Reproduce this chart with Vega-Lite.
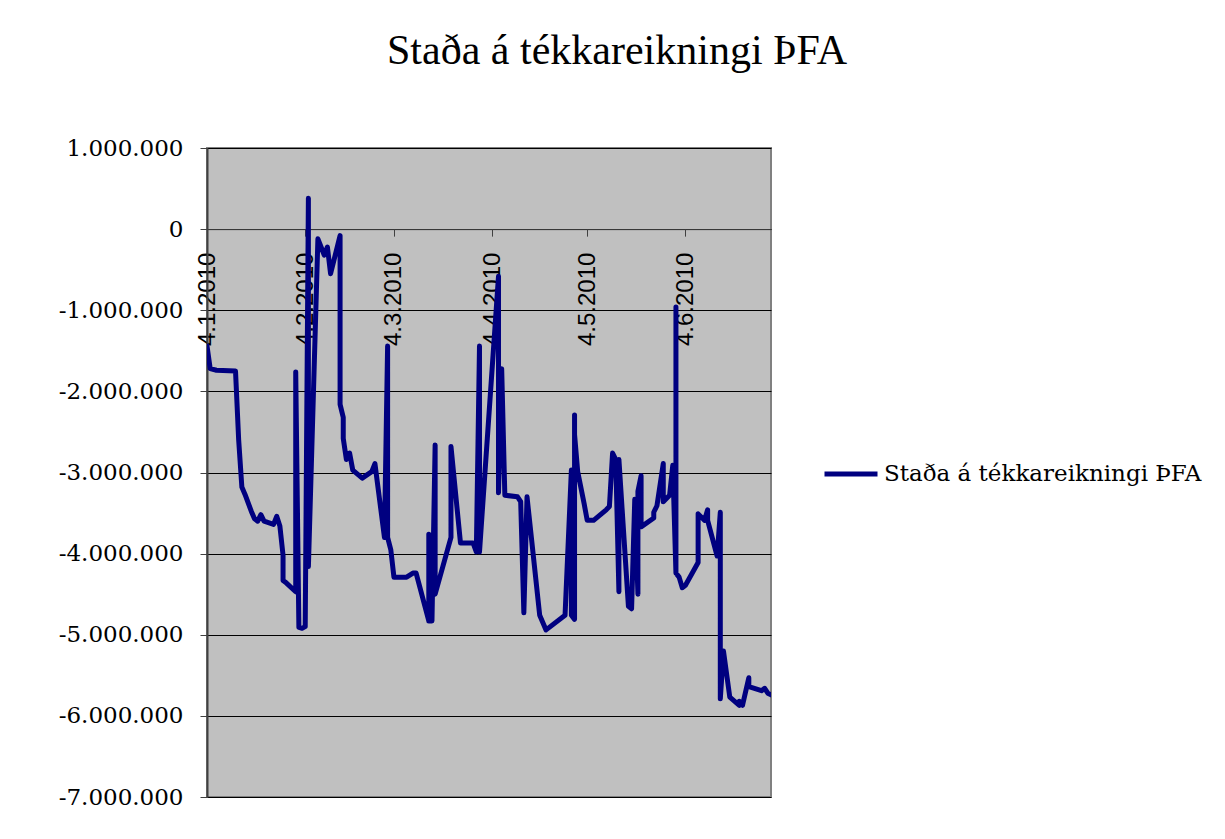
{
  "$schema": "https://vega.github.io/schema/vega-lite/v6.json",
  "autosize": {"type": "none"},
  "width": 564,
  "height": 649,
  "padding": {"left": 207, "top": 148, "right": 454, "bottom": 42},
  "background": "white",
  "title": {
    "text": "Staða á tékkareikningi ÞFA",
    "font": "Liberation Serif",
    "fontSize": 42,
    "fontWeight": "normal",
    "color": "black",
    "anchor": "middle",
    "frame": "group",
    "dx": 128,
    "baseline": "alphabetic",
    "offset": 31
  },
  "config": {
    "locale": {
      "number": {"decimal": ",", "thousands": ".", "grouping": [3], "currency": ["", " kr."], "minus": "-"}
    },
    "view": {"fill": "#C0C0C0", "stroke": "#808080", "strokeWidth": 2}
  },
  "data": {
    "format": {"parse": {"date": "date:'%Y-%m-%d'"}},
    "values": [
      {"n": 1, "date": "2010-01-04", "balance": -1440000},
      {"n": 2, "date": "2010-01-05", "balance": -1720000},
      {"n": 3, "date": "2010-01-07", "balance": -1740000},
      {"n": 4, "date": "2010-01-13", "balance": -1750000},
      {"n": 5, "date": "2010-01-14", "balance": -2600000},
      {"n": 6, "date": "2010-01-15", "balance": -3180000},
      {"n": 7, "date": "2010-01-16", "balance": -3270000},
      {"n": 8, "date": "2010-01-18", "balance": -3480000},
      {"n": 9, "date": "2010-01-19", "balance": -3570000},
      {"n": 10, "date": "2010-01-20", "balance": -3600000},
      {"n": 11, "date": "2010-01-21", "balance": -3520000},
      {"n": 12, "date": "2010-01-22", "balance": -3600000},
      {"n": 13, "date": "2010-01-25", "balance": -3640000},
      {"n": 14, "date": "2010-01-26", "balance": -3540000},
      {"n": 15, "date": "2010-01-27", "balance": -3660000},
      {"n": 16, "date": "2010-01-28", "balance": -4020000},
      {"n": 17, "date": "2010-01-28", "balance": -4330000},
      {"n": 18, "date": "2010-01-29", "balance": -4360000},
      {"n": 19, "date": "2010-02-01", "balance": -4470000},
      {"n": 20, "date": "2010-02-01", "balance": -1760000},
      {"n": 21, "date": "2010-02-02", "balance": -4910000},
      {"n": 22, "date": "2010-02-03", "balance": -4920000},
      {"n": 23, "date": "2010-02-04", "balance": -4900000},
      {"n": 24, "date": "2010-02-05", "balance": 380000},
      {"n": 25, "date": "2010-02-05", "balance": -4160000},
      {"n": 26, "date": "2010-02-08", "balance": -120000},
      {"n": 27, "date": "2010-02-09", "balance": -220000},
      {"n": 28, "date": "2010-02-10", "balance": -320000},
      {"n": 29, "date": "2010-02-11", "balance": -220000},
      {"n": 30, "date": "2010-02-12", "balance": -550000},
      {"n": 31, "date": "2010-02-15", "balance": -80000},
      {"n": 32, "date": "2010-02-15", "balance": -2160000},
      {"n": 33, "date": "2010-02-16", "balance": -2320000},
      {"n": 34, "date": "2010-02-16", "balance": -2580000},
      {"n": 35, "date": "2010-02-17", "balance": -2840000},
      {"n": 36, "date": "2010-02-18", "balance": -2760000},
      {"n": 37, "date": "2010-02-19", "balance": -2970000},
      {"n": 38, "date": "2010-02-22", "balance": -3070000},
      {"n": 39, "date": "2010-02-25", "balance": -2990000},
      {"n": 40, "date": "2010-02-26", "balance": -2890000},
      {"n": 41, "date": "2010-03-01", "balance": -3800000},
      {"n": 42, "date": "2010-03-02", "balance": -1440000},
      {"n": 43, "date": "2010-03-02", "balance": -3800000},
      {"n": 44, "date": "2010-03-03", "balance": -3950000},
      {"n": 45, "date": "2010-03-04", "balance": -4290000},
      {"n": 46, "date": "2010-03-08", "balance": -4290000},
      {"n": 47, "date": "2010-03-10", "balance": -4240000},
      {"n": 48, "date": "2010-03-11", "balance": -4240000},
      {"n": 49, "date": "2010-03-15", "balance": -4830000},
      {"n": 50, "date": "2010-03-15", "balance": -3760000},
      {"n": 51, "date": "2010-03-15", "balance": -4830000},
      {"n": 52, "date": "2010-03-16", "balance": -4830000},
      {"n": 53, "date": "2010-03-17", "balance": -2660000},
      {"n": 54, "date": "2010-03-17", "balance": -4500000},
      {"n": 55, "date": "2010-03-22", "balance": -3800000},
      {"n": 56, "date": "2010-03-22", "balance": -2680000},
      {"n": 57, "date": "2010-03-25", "balance": -3870000},
      {"n": 58, "date": "2010-03-29", "balance": -3870000},
      {"n": 59, "date": "2010-03-30", "balance": -3980000},
      {"n": 60, "date": "2010-03-31", "balance": -1440000},
      {"n": 61, "date": "2010-03-31", "balance": -3980000},
      {"n": 62, "date": "2010-04-01", "balance": -3410000},
      {"n": 63, "date": "2010-04-06", "balance": -580000},
      {"n": 64, "date": "2010-04-06", "balance": -3250000},
      {"n": 65, "date": "2010-04-07", "balance": -1720000},
      {"n": 66, "date": "2010-04-08", "balance": -3280000},
      {"n": 67, "date": "2010-04-12", "balance": -3300000},
      {"n": 68, "date": "2010-04-13", "balance": -3360000},
      {"n": 69, "date": "2010-04-14", "balance": -4730000},
      {"n": 70, "date": "2010-04-15", "balance": -3300000},
      {"n": 71, "date": "2010-04-19", "balance": -4760000},
      {"n": 72, "date": "2010-04-21", "balance": -4940000},
      {"n": 73, "date": "2010-04-27", "balance": -4760000},
      {"n": 74, "date": "2010-04-29", "balance": -2970000},
      {"n": 75, "date": "2010-04-29", "balance": -4760000},
      {"n": 76, "date": "2010-04-30", "balance": -4810000},
      {"n": 77, "date": "2010-04-30", "balance": -2290000},
      {"n": 78, "date": "2010-04-30", "balance": -2530000},
      {"n": 79, "date": "2010-05-01", "balance": -2990000},
      {"n": 80, "date": "2010-05-03", "balance": -3380000},
      {"n": 81, "date": "2010-05-04", "balance": -3590000},
      {"n": 82, "date": "2010-05-06", "balance": -3590000},
      {"n": 83, "date": "2010-05-10", "balance": -3460000},
      {"n": 84, "date": "2010-05-11", "balance": -3420000},
      {"n": 85, "date": "2010-05-12", "balance": -2760000},
      {"n": 86, "date": "2010-05-13", "balance": -2840000},
      {"n": 87, "date": "2010-05-14", "balance": -4470000},
      {"n": 88, "date": "2010-05-14", "balance": -2840000},
      {"n": 89, "date": "2010-05-17", "balance": -4650000},
      {"n": 90, "date": "2010-05-18", "balance": -4680000},
      {"n": 91, "date": "2010-05-19", "balance": -3330000},
      {"n": 92, "date": "2010-05-20", "balance": -4500000},
      {"n": 93, "date": "2010-05-20", "balance": -3230000},
      {"n": 94, "date": "2010-05-21", "balance": -3040000},
      {"n": 95, "date": "2010-05-21", "balance": -3670000},
      {"n": 96, "date": "2010-05-25", "balance": -3560000},
      {"n": 97, "date": "2010-05-25", "balance": -3490000},
      {"n": 98, "date": "2010-05-26", "balance": -3410000},
      {"n": 99, "date": "2010-05-28", "balance": -2890000},
      {"n": 100, "date": "2010-05-28", "balance": -3360000},
      {"n": 101, "date": "2010-05-30", "balance": -3280000},
      {"n": 102, "date": "2010-05-31", "balance": -2910000},
      {"n": 103, "date": "2010-06-01", "balance": -4240000},
      {"n": 104, "date": "2010-06-01", "balance": -960000},
      {"n": 105, "date": "2010-06-01", "balance": -4240000},
      {"n": 106, "date": "2010-06-02", "balance": -4290000},
      {"n": 107, "date": "2010-06-03", "balance": -4420000},
      {"n": 108, "date": "2010-06-04", "balance": -4390000},
      {"n": 109, "date": "2010-06-08", "balance": -4110000},
      {"n": 110, "date": "2010-06-08", "balance": -3510000},
      {"n": 111, "date": "2010-06-10", "balance": -3590000},
      {"n": 112, "date": "2010-06-11", "balance": -3460000},
      {"n": 113, "date": "2010-06-11", "balance": -3590000},
      {"n": 114, "date": "2010-06-14", "balance": -4030000},
      {"n": 115, "date": "2010-06-15", "balance": -3490000},
      {"n": 116, "date": "2010-06-15", "balance": -3720000},
      {"n": 117, "date": "2010-06-15", "balance": -5790000},
      {"n": 118, "date": "2010-06-16", "balance": -5200000},
      {"n": 119, "date": "2010-06-18", "balance": -5770000},
      {"n": 120, "date": "2010-06-21", "balance": -5870000},
      {"n": 121, "date": "2010-06-21", "balance": -5820000},
      {"n": 122, "date": "2010-06-22", "balance": -5870000},
      {"n": 123, "date": "2010-06-24", "balance": -5530000},
      {"n": 124, "date": "2010-06-24", "balance": -5640000},
      {"n": 125, "date": "2010-06-28", "balance": -5690000},
      {"n": 126, "date": "2010-06-29", "balance": -5660000},
      {"n": 127, "date": "2010-06-30", "balance": -5720000},
      {"n": 128, "date": "2010-07-01", "balance": -5740000}
    ]
  },
  "mark": {"type": "line", "strokeWidth": 5, "strokeJoin": "round", "strokeCap": "round", "clip": true},
  "encoding": {
    "x": {
      "field": "date",
      "type": "temporal",
      "scale": {"domain": [{"year": 2010, "month": 1, "date": 4}, {"year": 2010, "month": 7, "date": 1}]},
      "axis": {
        "title": null,
        "offset": -567.875,
        "values": [
          {"year": 2010, "month": 1, "date": 4},
          {"year": 2010, "month": 2, "date": 4},
          {"year": 2010, "month": 3, "date": 4},
          {"year": 2010, "month": 4, "date": 4},
          {"year": 2010, "month": 5, "date": 4},
          {"year": 2010, "month": 6, "date": 4}
        ],
        "format": "%-d.%-m.%Y",
        "labelAngle": 270,
        "labelFont": "Liberation Sans",
        "labelFontSize": 24,
        "labelColor": "black",
        "labelPadding": 16,
        "labelFlush": false,
        "labelOverlap": false,
        "tickSize": 7,
        "tickColor": "#404040",
        "domainColor": "#404040",
        "domainWidth": 1,
        "grid": false
      }
    },
    "y": {
      "field": "balance",
      "type": "quantitative",
      "scale": {"domain": [-7000000, 1000000], "nice": false, "zero": false},
      "axis": {
        "title": null,
        "values": [-7000000, -6000000, -5000000, -4000000, -3000000, -2000000, -1000000, 0, 1000000],
        "format": ",.0f",
        "labelFont": "DejaVu Serif",
        "labelFontSize": 23,
        "labelColor": "black",
        "labelPadding": 17,
        "tickSize": 7,
        "tickColor": "#404040",
        "domainColor": "#404040",
        "domainWidth": 2,
        "grid": true,
        "gridColor": "#000000",
        "gridWidth": 1
      }
    },
    "order": {"field": "n", "type": "quantitative"},
    "color": {
      "datum": "Staða á tékkareikningi ÞFA",
      "type": "nominal",
      "scale": {"range": ["#000080"]},
      "legend": {
        "title": null,
        "orient": "none",
        "legendX": 615,
        "legendY": 297,
        "padding": 0,
        "symbolType": "stroke",
        "symbolSize": 2809,
        "symbolStrokeWidth": 5,
        "labelFont": "DejaVu Serif",
        "labelFontSize": 23,
        "labelColor": "black",
        "labelOffset": 4,
        "labelLimit": 0
      }
    }
  }
}
